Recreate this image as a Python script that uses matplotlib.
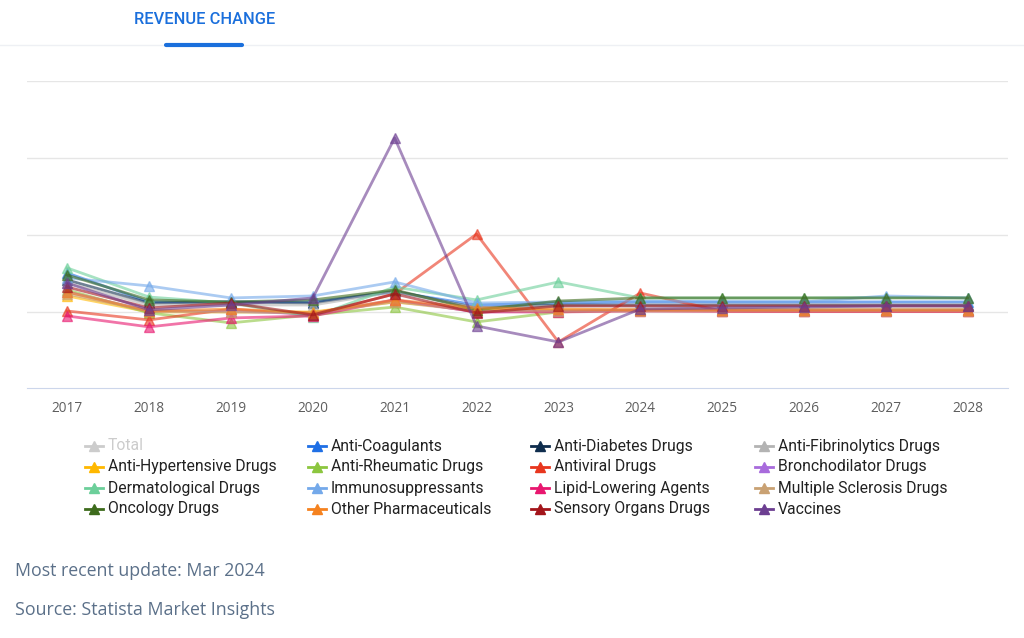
import matplotlib
matplotlib.use("Agg")
import matplotlib.pyplot as plt
from matplotlib.lines import Line2D

years = [2017, 2018, 2019, 2020, 2021, 2022, 2023, 2024, 2025, 2026, 2027, 2028]

# revenue change in % (no axis labels in the original)
anti_coagulants = [25.3, 6.5, 6.5, 6.5, 13.0, 4.5, 5.8, 6.5, 6.5, 6.5, 6.5, 6.5]
anti_diabetes = [20.8, 5.8, 6.5, 5.8, 13.6, 2.6, 4.5, 4.5, 4.5, 4.5, 4.5, 4.5]
anti_fibrinolytics = [18.8, 4.5, 4.5, 4.5, 13.0, 2.6, 3.9, 3.9, 3.9, 3.9, 3.9, 3.9]
anti_hypertensive = [10.4, 0.0, 0.0, 0.0, 6.5, 1.3, 1.3, 1.3, 1.3, 1.3, 1.3, 1.3]
anti_rheumatic = [14.3, -0.6, -7.1, -1.9, 3.2, -6.5, 0.0, 1.3, 1.3, 1.3, 1.3, 1.3]
antiviral = [0.6, -5.2, 1.9, -1.9, 11.7, 50.6, -19.5, 12.3, 0.5, 0.3, 0.3, 0.3]
bronchodilator = [13.0, 0.6, 0.6, -1.3, 7.8, 0.0, 0.6, 1.3, 1.3, 1.3, 1.3, 1.3]
dermatological = [28.6, 9.7, 5.8, -3.2, 16.2, 7.8, 19.5, 9.1, 9.1, 9.1, 9.4, 9.1]
immunosuppressants = [22.1, 16.9, 9.1, 10.4, 19.5, 5.8, 6.5, 7.1, 6.5, 6.5, 10.4, 9.1]
lipid_lowering = [-2.6, -9.7, -3.9, -2.6, 7.8, 0.0, 0.0, 0.6, 0.3, 0.3, 0.3, 0.3]
multiple_sclerosis = [11.7, 0.6, 0.0, -0.6, 6.5, 0.6, 0.6, 0.6, 0.6, 0.6, 0.6, 0.6]
oncology = [24.0, 7.8, 6.5, 7.8, 14.3, 1.3, 7.1, 9.1, 9.1, 9.1, 9.1, 9.1]
other_pharma = [13.0, 0.6, 1.9, -0.6, 7.8, 2.6, 1.9, 1.3, 1.3, 1.3, 1.3, 1.3]
sensory_organs = [16.2, 2.6, 5.8, -1.9, 11.7, -0.6, 3.9, 3.9, 3.9, 3.9, 3.9, 3.9]
vaccines = [18.8, 1.3, 4.5, 9.1, 113.0, -9.1, -19.5, 1.9, 2.6, 3.2, 3.9, 3.9]

labels = ["Total", "Anti-Coagulants", "Anti-Diabetes Drugs", "Anti-Fibrinolytics Drugs",
          "Anti-Hypertensive Drugs", "Anti-Rheumatic Drugs", "Antiviral Drugs", "Bronchodilator Drugs",
          "Dermatological Drugs", "Immunosuppressants", "Lipid-Lowering Agents", "Multiple Sclerosis Drugs",
          "Oncology Drugs", "Other Pharmaceuticals", "Sensory Organs Drugs", "Vaccines"]
colors = ["#cccccc", "#1f6fe5", "#0f2d4d", "#b3b3b3",
          "#ffb800", "#8cc63f", "#e8361e", "#a86bdc",
          "#6ccf9a", "#74a9ea", "#e8176f", "#c9a173",
          "#3d6b1c", "#f5821f", "#a3151b", "#6c3e91"]
series = [None, anti_coagulants, anti_diabetes, anti_fibrinolytics,
          anti_hypertensive, anti_rheumatic, antiviral, bronchodilator,
          dermatological, immunosuppressants, lipid_lowering, multiple_sclerosis,
          oncology, other_pharma, sensory_organs, vaccines]

roboto = ["Roboto", "DejaVu Sans"]
opensans = ["Open Sans", "DejaVu Sans"]

fig = plt.figure(figsize=(10.24, 6.38), dpi=100)
ax = fig.add_axes([27 / 1024, 1 - 388 / 638, 981 / 1024, 307 / 638])

for vals, col in zip(series, colors):
    if vals is None:
        continue  # "Total" is switched off in the original
    ax.plot(years, vals, color=col, lw=2, alpha=0.6, marker="^", ms=7, mec=col, mfc=col, zorder=3)

ax.set_xlim(2016.51, 2028.49)
ax.set_ylim(-49.4, 150)
ax.set_yticks([0, 50, 100, 150])
ax.set_xticks(years)
ax.set_xticklabels([str(y) for y in years], fontfamily=opensans, fontsize=9.8, color="#5e5e5e")
ax.grid(axis="y", color="#e6e6e6", lw=1)
ax.set_axisbelow(True)
ax.tick_params(axis="x", length=0, pad=9)
ax.tick_params(axis="y", length=0, labelleft=False)
for s in ["left", "right", "top"]:
    ax.spines[s].set_visible(False)
ax.spines["bottom"].set_color("#ccd6eb")

# header tab
fig.text(134 / 1024, 1 - 19 / 638, "REVENUE CHANGE", fontfamily=roboto, fontweight="medium",
         fontsize=11.8, color="#1a6fdc", va="center", ha="left")
fig.add_artist(Line2D([0, 1], [1 - 45 / 638] * 2, color="#eef0f4", lw=1))
fig.add_artist(Line2D([166 / 1024, 242 / 1024], [1 - 45 / 638] * 2, color="#1a6fdc", lw=3,
                      solid_capstyle="round"))

# legend, row by row
col_x = [85, 308, 531, 755]
row_y = [446, 467, 488, 509]
for i, (lab, col) in enumerate(zip(labels, colors)):
    r, c = divmod(i, 4)
    x0 = col_x[c] / 1024
    y0 = 1 - row_y[r] / 638
    fig.add_artist(Line2D([x0, x0 + 18 / 1024], [y0, y0], color=col, lw=2))
    fig.add_artist(Line2D([x0 + 9 / 1024], [y0], color=col, marker="^", ms=7, lw=0))
    fig.text(x0 + 23 / 1024, y0, lab, fontfamily=roboto, fontsize=11.3,
             color="#cccccc" if lab == "Total" else "#222222", va="center", ha="left")

fig.text(15 / 1024, 1 - 571 / 638, "Most recent update: Mar 2024", fontfamily=opensans,
         fontsize=12.8, color="#5b7089", va="center")
fig.text(15 / 1024, 1 - 610 / 638, "Source: Statista Market Insights", fontfamily=opensans,
         fontsize=12.8, color="#5b7089", va="center")

fig.savefig("out.png", dpi=100)
